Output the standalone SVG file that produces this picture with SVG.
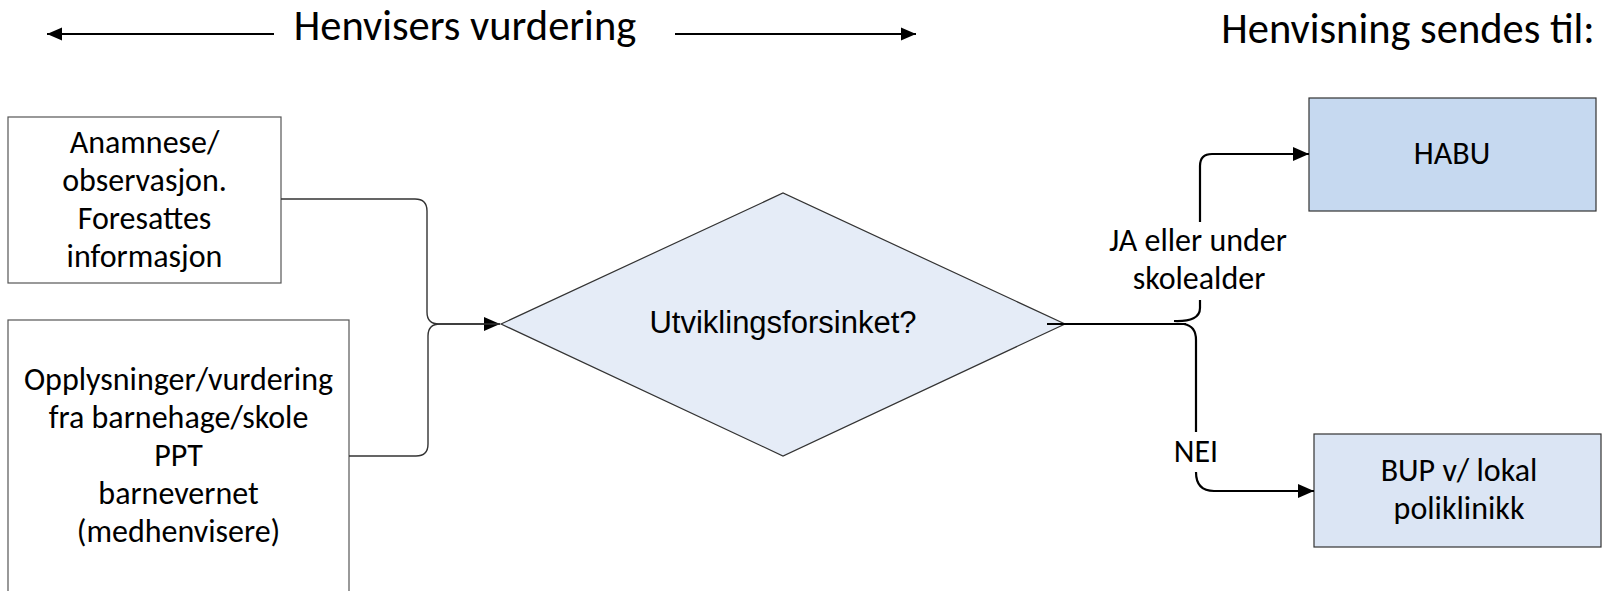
<svg xmlns="http://www.w3.org/2000/svg" width="1603" height="591" viewBox="0 0 1603 591">
<style>
.t{font-family:Carlito,Lato,"Open Sans",sans-serif;font-size:32px;fill:#000;text-anchor:middle}
.h{font-family:Carlito,Lato,"Open Sans",sans-serif;font-size:42.5px;fill:#000;text-anchor:middle}
.d{font-family:"Liberation Sans",Arial,sans-serif;font-size:31px;fill:#000;text-anchor:middle}
.box{stroke:#555;stroke-width:1.2}
.thin{fill:none;stroke:#333;stroke-width:1.4}
.thick{fill:none;stroke:#000;stroke-width:2.2}
</style>
<defs>
<marker id="arr" markerUnits="userSpaceOnUse" markerWidth="16" markerHeight="16" viewBox="0 0 16 16" refX="16" refY="8" orient="auto">
<path d="M0,1 L16,8 L0,15 Z" fill="#000"/>
</marker>
<marker id="arrS" markerUnits="userSpaceOnUse" markerWidth="15" markerHeight="15" viewBox="0 0 15 15" refX="15" refY="7.5" orient="auto">
<path d="M0,1 L15,7.5 L0,14 Z" fill="#000"/>
</marker>
</defs>
<rect width="1603" height="591" fill="#fff"/>
<g id="header">
<line x1="274" y1="34" x2="47" y2="34" class="thick" marker-end="url(#arrS)"/>
<text x="465" y="40" class="h">Henvisers vurdering</text>
<line x1="675" y1="34" x2="916" y2="34" class="thick" marker-end="url(#arrS)"/>
<text x="1408" y="43" class="h">Henvisning sendes til:</text>
</g>
<g id="node-anamnese">
<rect x="8" y="117" width="273" height="166" fill="#fff" class="box"/>
<text class="t"><tspan x="144.5" y="153">Anamnese/</tspan><tspan x="144.5" y="191">observasjon.</tspan><tspan x="144.5" y="229">Foresattes</tspan><tspan x="144.5" y="267">informasjon</tspan></text>
</g>
<g id="node-opplysninger">
<rect x="8" y="320" width="341" height="280" fill="#fff" class="box"/>
<text class="t"><tspan x="178.5" y="390">Opplysninger/vurdering</tspan><tspan x="178.5" y="428">fra barnehage/skole</tspan><tspan x="178.5" y="466">PPT</tspan><tspan x="178.5" y="504">barnevernet</tspan><tspan x="178.5" y="542">(medhenvisere)</tspan></text>
</g>
<g id="node-decision">
<polygon points="501,324 783,193 1065,324 783,456" fill="#E5ECF7" stroke="#333" stroke-width="1.2"/>
<text x="783" y="333" class="d">Utviklingsforsinket?</text>
</g>
<g id="node-habu">
<rect x="1309" y="98" width="287" height="113" fill="#C6D9F0" stroke="#333" stroke-width="1.2"/>
<text x="1452" y="164" class="t">HABU</text>
</g>
<g id="node-bup">
<rect x="1314" y="434" width="287" height="113" fill="#DBE5F4" stroke="#333" stroke-width="1.2"/>
<text class="t"><tspan x="1459" y="481">BUP v/ lokal</tspan><tspan x="1459" y="519">poliklinikk</tspan></text>
</g>
<g id="connectors">
<path d="M281,199 H415 Q427,199 427,211 V312 Q427,324 439,324 H500" class="thin" marker-end="url(#arr)"/>
<path d="M349,456 H416 Q428,456 428,444 V336 Q428,324 440,324 H500" class="thin"/>
<path d="M1047,324 H1186" class="thick"/>
<path d="M1174,321 Q1200,322 1200,308 V300" class="thick"/>
<path d="M1200,222 V166 Q1200,154 1212,154 H1309" class="thick" marker-end="url(#arr)"/>
<path d="M1184,324 Q1196,326 1196,340 V432" class="thick"/>
<path d="M1196,472 Q1196,491 1214,491 H1314" class="thick" marker-end="url(#arr)"/>
<text class="t"><tspan x="1198" y="251">JA eller under</tspan><tspan x="1199" y="289">skolealder</tspan></text>
<text x="1196" y="462" class="t">NEI</text>
</g>
</svg>
